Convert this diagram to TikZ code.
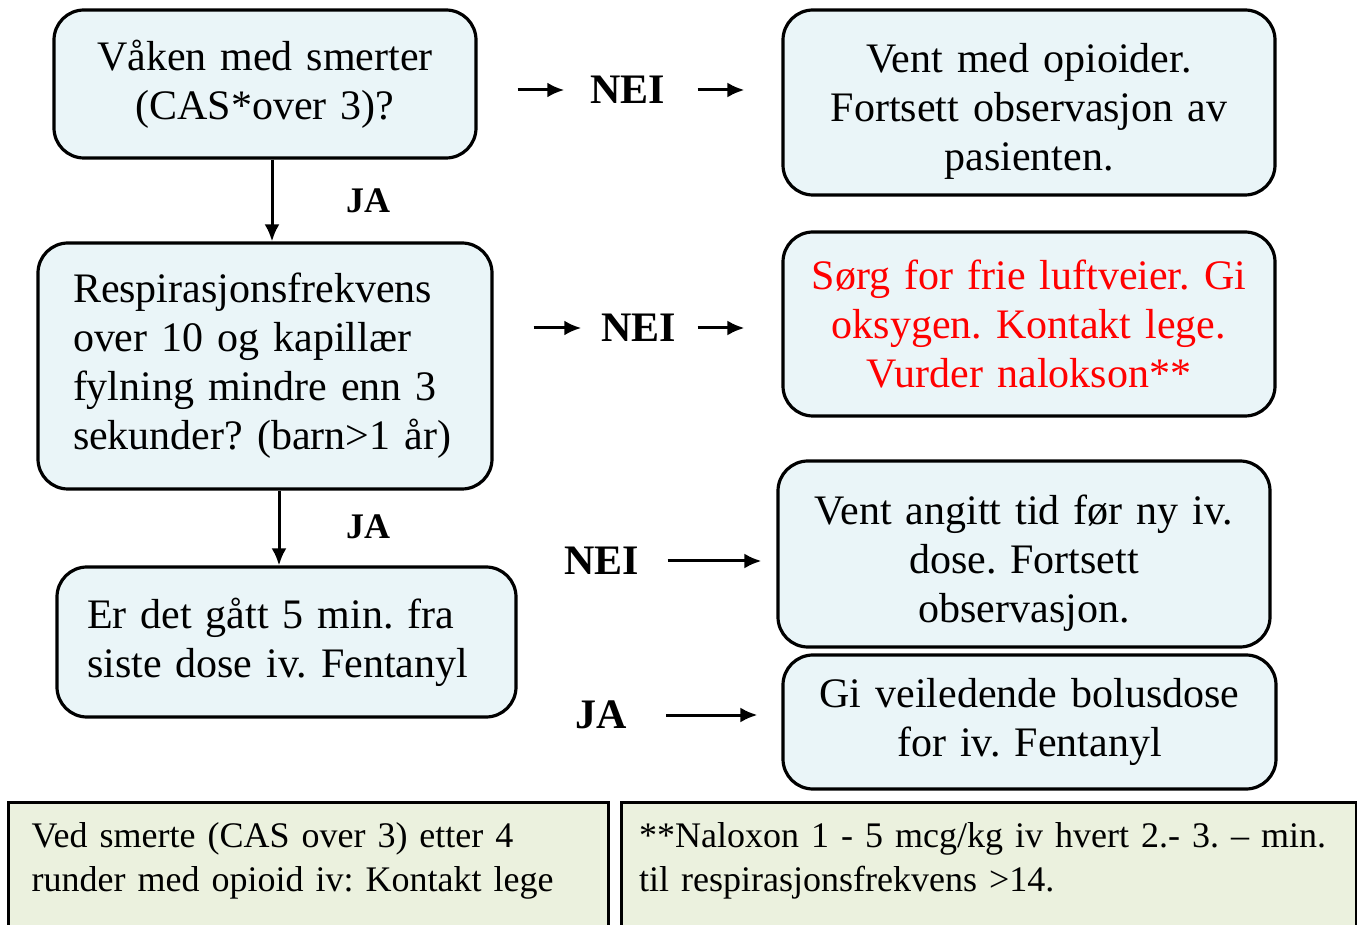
\documentclass[tikz,border=0pt]{standalone}
\usepackage{fontspec}
\setmainfont{Liberation Serif}
\usetikzlibrary{arrows.meta}
\frenchspacing
\definecolor{boxblue}{HTML}{EAF5F8}
\definecolor{boxgreen}{HTML}{EBF1DE}
\tikzset{% 
    qbox/.style={draw=black,line width=1.6pt,rounded corners=15pt,fill=boxblue,inner sep=0pt,
        font=\fontsize{21}{24.5}\selectfont},
    nbox/.style={draw=black,line width=1.6pt,fill=boxgreen,anchor=north west,align=left,
        inner xsep=11.5pt,inner ysep=10pt,font=\fontsize{18}{22}\selectfont},
    lbl/.style={inner sep=0pt,font=\bfseries\fontsize{21}{25}\selectfont}
}

\begin{document}
\begin{tikzpicture}[
            x=0.5pt,y=-0.5pt,
            edge/.style={line width=1.5pt,-{Latex[length=8.5pt,width=7.5pt]}}
            ]
            \useasboundingbox (0,0) rectangle (1357,925);

            \node[qbox,minimum width=211pt,minimum height=74pt,text width=190pt,align=center] (q1) at (265,84)
                {Våken med smerter\\(CAS*over 3)?};
            \node[qbox,minimum width=227pt,minimum height=123pt,text width=192pt,align=left] (q2) at (265,366)
                {Respirasjonsfrekvens\\over 10 og kapillær\\fylning mindre enn 3\\sekunder? (barn>1 år)};
            \node[qbox,minimum width=229.5pt,minimum height=75pt,text width=199.5pt,align=left] (q3) at (286.5,642)
                {Er det gått 5 min. fra\\siste dose iv. Fentanyl};

            \node[qbox,minimum width=246pt,minimum height=92.5pt,text width=230pt,align=center] (r1) at (1029,102.5)
                {\rule{0pt}{23pt}Vent med opioider.\\Fortsett observasjon av\\pasienten.};
            \node[qbox,minimum width=246pt,minimum height=92pt,text width=230pt,align=center,text=red] (r2) at (1029,324)
                {Sørg for frie luftveier. Gi\\oksygen. Kontakt lege.\\Vurder nalokson**};
            \node[qbox,minimum width=246pt,minimum height=93pt,text width=230pt,align=center] (r3) at (1024,554)
                {\rule{0pt}{24pt}Vent angitt tid før ny iv.\\dose. Fortsett\\observasjon.};
            \node[qbox,minimum width=246.5pt,minimum height=67pt,text width=230pt,align=center] (r4) at (1029.5,722)
                {Gi veiledende bolusdose\\for iv. Fentanyl};

            \node[nbox,text width=277pt] (n1) at (7,801)
                {Ved smerte (CAS over 3) etter 4\\runder med opioid iv: Kontakt lege\\\mbox{}};
            \node[nbox,text width=350pt,inner xsep=8.75pt] (n2) at (620,801)
                {**Naloxon 1 - 5 mcg/kg iv hvert 2.- 3. – min.\\til respirasjonsfrekvens >14.\\\mbox{}};

            % labels
            \node[lbl,font=\bfseries\fontsize{18}{22}\selectfont] (ja1) at (368,201) {JA};
            \node[lbl,font=\bfseries\fontsize{18}{22}\selectfont] (ja2) at (368,527) {JA};
            \node[lbl] (nei1) at (628,90) {NEI};
            \node[lbl] (nei2) at (639,328) {NEI};
            \node[lbl] (nei3) at (602,561) {NEI};
            \node[lbl] (ja3) at (601,715) {JA};

            % connectors
            \draw[edge] ([xshift=3.5pt]q1.south) -- ([xshift=3.5pt]q1.south |- q2.north);
            \draw[edge] ([xshift=7pt]q2.south) -- ([xshift=7pt]q2.south |- q3.north);
            \draw[edge,shorten <=20pt,shorten >=13pt] (q1.east |- nei1.west) -- (nei1.west);
            \draw[edge,shorten <=16pt,shorten >=18.5pt] (nei1.east) -- (nei1.east -| r1.west);
            \draw[edge,shorten <=20pt,shorten >=10pt] (q2.east |- nei2.west) -- (nei2.west);
            \draw[edge,shorten <=10.5pt,shorten >=18.5pt] (nei2.east) -- (nei2.east -| r2.west);
            \draw[edge,shorten <=14pt,shorten >=7.5pt] (nei3.east) -- (nei3.east -| r3.west);
            \draw[edge,shorten <=19.5pt,shorten >=12pt] (ja3.east) -- (ja3.east -| r4.west);
        \end{tikzpicture}
\end{document}
